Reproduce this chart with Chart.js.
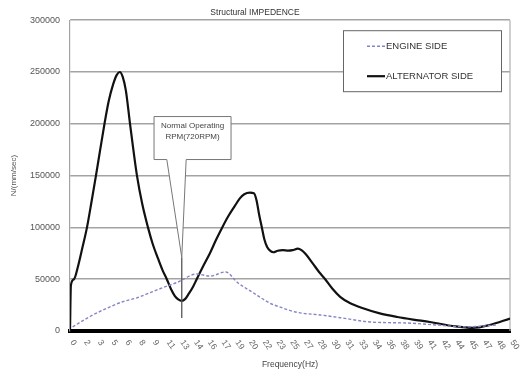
<!DOCTYPE html>
<html>
<head>
<meta charset="utf-8">
<script src="https://cdn.jsdelivr.net/npm/chart.js@4.4.0/dist/chart.umd.min.js"></script>
<style>
  html, body { margin: 0; padding: 0; background: #fff; }
  #wrap { width: 529px; height: 373px; }
</style>
</head>
<body>
<div id="wrap"><canvas id="impChart" width="529" height="373"></canvas></div>
<script>
// values (Hz, N/(mm/sec))
const altFreq = [0, 0.1, 0.45, 0.9, 1.4, 1.93, 2.45, 2.95, 3.45, 3.92, 4.4, 4.9, 5.3, 5.65, 6.0, 6.35, 6.82, 7.2, 7.61, 8.2, 8.86, 9.4, 10.0, 10.5, 11.0, 11.5, 11.9, 12.3, 12.7, 13.1, 13.5, 14.0, 14.4, 15.1, 15.9, 16.6, 17.3, 18.0, 18.75, 19.3, 19.8, 20.45, 20.9, 21.2, 21.5, 21.8, 22.1, 22.4, 22.8, 23.1, 23.6, 24.2, 24.8, 25.3, 25.9, 26.3, 26.8, 27.6, 28.3, 29.0, 29.8, 30.7, 31.8, 33.3, 35.2, 37.2, 39.0, 40.9, 43.5, 45.8, 47.7, 50.0]
const altValues = [0, 44000, 50000, 62000, 80000, 100000, 125000, 150000, 176000, 200000, 222000, 238000, 247000, 250000, 245000, 232000, 200000, 175000, 150000, 123000, 100000, 84000, 70000, 59000, 50000, 40000, 34000, 30500, 29000, 31000, 36000, 43000, 50000, 62000, 75000, 88000, 100000, 111000, 121000, 128000, 132000, 133500, 133000, 126000, 112000, 100000, 88000, 81000, 77000, 76000, 77500, 78000, 77500, 78000, 79500, 78000, 74000, 65000, 57000, 50000, 41000, 33000, 27000, 22000, 17000, 13500, 11000, 8700, 4800, 3000, 5800, 12000]

const engFreq = [0.3, 2.27, 4.2, 5.9, 7.6, 9.1, 10.6, 12.2, 14.4, 15.9, 17.7, 19.0, 20.8, 22.7, 23.9, 25.8, 28.4, 31.0, 34.1, 38.3, 41.7, 45.1, 48.5]
const engValues = [4000, 14000, 22000, 28000, 32000, 37000, 42000, 47000, 55000, 53000, 57000, 47000, 37000, 27000, 23000, 18000, 15500, 12500, 8700, 7700, 5800, 4000, 5800]

const xTickLabels = ['0','2','3','5','6','8','9','11','13','14','16','17','19','20','22','23','25','27','28','30','31','33','34','36','38','39','41','42','44','45','47','48','50']
const yTickLabels = ['0', '50000', '100000', '150000', '200000', '250000', '300000']
const seriesNames = ['ENGINE SIDE', 'ALTERNATOR SIDE']
const noteLines = ['Normal Operating', 'RPM(720RPM)']

const FONT = "'Liberation Sans', Arial, sans-serif"

function pts(xs, ys) {
  return xs.map((x, i) => ({x: x, y: ys[i]}))
}

// x tick labels, rotated clockwise like the original
const xLabelsPlugin = {
  id: 'xLabels',
  afterDraw(chart) {
    const ctx = chart.ctx
    const xs = chart.scales.x
    const n = xTickLabels.length
    ctx.save()
    ctx.fillStyle = '#666'
    ctx.font = '8.5px ' + FONT
    ctx.textAlign = 'left'
    ctx.textBaseline = 'middle'
    xTickLabels.forEach((lab, i) => {
      const px = xs.getPixelForValue(i * 50 / (n - 1))
      ctx.save()
      ctx.translate(px + 2, xs.top + 10)
      ctx.rotate(55 * Math.PI / 180)
      ctx.fillText(lab, 0, 0)
      ctx.restore()
    })
    ctx.restore()
  }
}

// right border of the plot
const frameRight = {
  id: 'frameRight',
  beforeDatasetsDraw(chart) {
    const {ctx, chartArea} = chart
    ctx.save()
    ctx.strokeStyle = '#b0b0b0'
    ctx.lineWidth = 1.2
    ctx.beginPath()
    ctx.moveTo(chartArea.right, chartArea.top)
    ctx.lineTo(chartArea.right, chartArea.bottom)
    ctx.stroke()
    ctx.restore()
  }
}

// callout "Normal Operating RPM"
const callout = {
  id: 'callout',
  afterDatasetsDraw(chart) {
    const ctx = chart.ctx
    const xs = chart.scales.x, ys = chart.scales.y
    const L = xs.getPixelForValue(9.55), R = xs.getPixelForValue(18.3)
    const T = ys.getPixelForValue(207000), B = ys.getPixelForValue(165500)
    const p1 = xs.getPixelForValue(11.0), p2 = xs.getPixelForValue(13.2)
    const tipX = xs.getPixelForValue(12.7), tipY = ys.getPixelForValue(71000)
    const endY = ys.getPixelForValue(12500)
    ctx.save()
    ctx.strokeStyle = '#777'
    ctx.lineWidth = 1
    ctx.fillStyle = '#fff'
    ctx.beginPath()
    ctx.moveTo(L, T)
    ctx.lineTo(R, T)
    ctx.lineTo(R, B)
    ctx.lineTo(p2, B)
    ctx.lineTo(tipX, tipY)
    ctx.lineTo(p1, B)
    ctx.lineTo(L, B)
    ctx.closePath()
    ctx.fill()
    ctx.stroke()
    ctx.strokeStyle = '#555'
    ctx.lineWidth = 1.3
    ctx.beginPath()
    ctx.moveTo(tipX, tipY)
    ctx.lineTo(tipX, endY)
    ctx.stroke()
    ctx.fillStyle = '#444'
    ctx.font = '8px ' + FONT
    ctx.textAlign = 'center'
    ctx.textBaseline = 'middle'
    const cx = (L + R) / 2
    ctx.fillText(noteLines[0], cx, T + 9)
    ctx.fillText(noteLines[1], cx, T + 20)
    ctx.restore()
  }
}

// legend box inside the plot
const boxLegend = {
  id: 'boxLegend',
  afterDraw(chart) {
    const {ctx, chartArea} = chart
    const L = chartArea.right - 167, R = chartArea.right - 9
    const T = chartArea.top + 10, B = chartArea.top + 71
    ctx.save()
    ctx.fillStyle = '#fff'
    ctx.fillRect(L, T, R - L, B - T)
    ctx.strokeStyle = '#666'
    ctx.lineWidth = 1
    ctx.strokeRect(L + 0.5, T + 0.5, R - L, B - T)
    ctx.font = '9.5px ' + FONT
    ctx.textAlign = 'left'
    ctx.textBaseline = 'middle'
    chart.data.datasets.forEach((ds, i) => {
      const y = T + 16 + i * 30
      ctx.strokeStyle = ds.borderColor
      ctx.lineWidth = ds.borderWidth
      ctx.setLineDash(ds.borderDash || [])
      ctx.beginPath()
      ctx.moveTo(L + 24, y)
      ctx.lineTo(L + 42, y)
      ctx.stroke()
      ctx.setLineDash([])
      ctx.fillStyle = '#333'
      ctx.fillText(ds.label, L + 43, y)
    })
    ctx.restore()
  }
}

const ctx = document.getElementById('impChart').getContext('2d')
const chart = new Chart(ctx, {
  type: 'line',
  data: {
    datasets: [
      {
        label: seriesNames[0],
        data: pts(engFreq, engValues),
        borderColor: '#8585c4',
        borderWidth: 1.4,
        borderDash: [3, 2],
        pointRadius: 0,
        cubicInterpolationMode: 'monotone',
        fill: false
      },
      {
        label: seriesNames[1],
        data: pts(altFreq, altValues),
        borderColor: '#111',
        borderWidth: 2.2,
        pointRadius: 0,
        cubicInterpolationMode: 'monotone',
        fill: false
      }
    ]
  },
  options: {
    responsive: false,
    animation: false,
    layout: { padding: { left: 0, right: 19, top: 0, bottom: 0 } },
    scales: {
      x: {
        type: 'linear',
        min: 0,
        max: 50,
        grid: { display: false, drawTicks: false },
        border: { display: true, color: '#000', width: 4 },
        ticks: { display: false },
        title: {
          display: true,
          text: 'Frequency(Hz)',
          color: '#444',
          font: { family: FONT, size: 8.5 },
          padding: { top: 0, bottom: 3 }
        },
        afterFit(scale) { scale.height = 42 }
      },
      y: {
        min: 0,
        max: 300000,
        ticks: {
          stepSize: 50000,
          color: '#555',
          padding: 10,
          font: { family: FONT, size: 9 },
          callback: (v, i) => yTickLabels[i]
        },
        grid: { color: '#a3a3a3', lineWidth: 1.5, drawTicks: false },
        border: { display: true, color: '#a3a3a3', width: 1.2 },
        title: {
          display: true,
          text: 'N/(mm/sec)',
          color: '#555',
          font: { family: FONT, size: 8 },
          padding: { top: 9, bottom: 0 }
        },
        afterFit(scale) { scale.width = 70 }
      }
    },
    plugins: {
      legend: { display: false },
      tooltip: { enabled: false },
      title: {
        display: true,
        text: 'Structural IMPEDENCE',
        color: '#333',
        font: { family: FONT, size: 8.5, weight: 'normal' },
        padding: { top: 8, bottom: 2 }
      }
    }
  },
  plugins: [frameRight, callout, xLabelsPlugin, boxLegend]
})
</script>
</body>
</html>
